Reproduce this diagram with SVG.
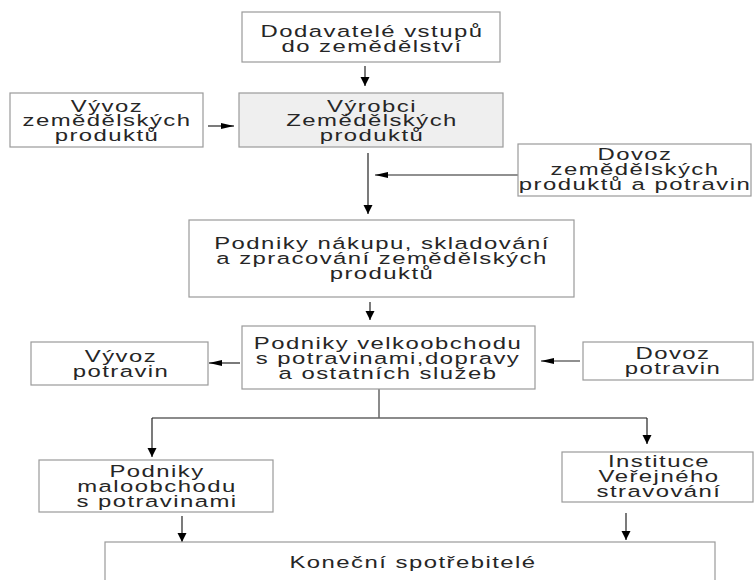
<svg xmlns="http://www.w3.org/2000/svg" width="754" height="580" viewBox="0 0 754 580">
<defs>
<style>
.box{fill:#ffffff;stroke:#9a9a9a;stroke-width:1.2}
.gray{fill:#efefef}
.t{font-family:"Liberation Sans",Arial,sans-serif;font-size:16.5px;letter-spacing:1px;fill:#262626;text-anchor:middle}
.c{fill:none;stroke:#222;stroke-width:1.2}
.cg{fill:none;stroke:#666;stroke-width:1.5}
</style>
<marker id="ah" markerUnits="userSpaceOnUse" markerWidth="14" markerHeight="8" refX="13" refY="4" orient="auto">
<path d="M0,1 L13,4 L0,7 Z" fill="#000"/>
</marker>
<marker id="av" markerUnits="userSpaceOnUse" markerWidth="10" markerHeight="10" refX="9" refY="5" orient="auto">
<path d="M0,0.5 L9,5 L0,9.5 Z" fill="#000"/>
</marker>
</defs>
<rect width="754" height="580" fill="#fff"/>

<g id="connectors">
<path class="c" d="M365,66 V86" marker-end="url(#av)"/>
<path class="c" d="M208,126 H234" marker-end="url(#ah)"/>
<path class="c" d="M518,175 H375" marker-end="url(#ah)"/>
<path class="c" d="M368,153 V214" marker-end="url(#av)"/>
<path class="c" d="M370,302 V320" marker-end="url(#av)"/>
<path class="c" d="M240,363 H209" marker-end="url(#ah)"/>
<path class="c" d="M580,361 H541" marker-end="url(#ah)"/>
<path class="cg" d="M379,389 V418 M152,418 H647"/>
<path class="c" d="M152,418 V457" marker-end="url(#av)"/>
<path class="c" d="M647,418 V444" marker-end="url(#av)"/>
<path class="c" d="M182,516 V542" marker-end="url(#av)"/>
<path class="c" d="M626,513 V540" marker-end="url(#av)"/>
</g>

<g id="dodavatele">
<rect class="box" x="242" y="12" width="258" height="50"/>
<text class="t" transform="translate(372,0) scale(1.45,1)"><tspan x="0" y="37">Dodavatelé vstupů</tspan><tspan x="0" y="52">do zemědělství</tspan></text>
</g>

<g id="vyrobci">
<rect class="box gray" x="239" y="93" width="264" height="54"/>
<text class="t" transform="translate(372,0) scale(1.45,1)"><tspan x="0" y="112">Výrobci</tspan><tspan x="0" y="126.5">Zemědělských</tspan><tspan x="0" y="141">produktů</tspan></text>
</g>

<g id="vyvoz-zem">
<rect class="box" x="10" y="93" width="193" height="54"/>
<text class="t" transform="translate(107,0) scale(1.45,1)"><tspan x="0" y="112">Vývoz</tspan><tspan x="0" y="126.5">zemědělských</tspan><tspan x="0" y="141">produktů</tspan></text>
</g>

<g id="dovoz-zem">
<rect class="box" x="518" y="144" width="233" height="52"/>
<text class="t" transform="translate(635,0) scale(1.45,1)"><tspan x="0" y="160">Dovoz</tspan><tspan x="0" y="175">zemědělských</tspan><tspan x="0" y="190">produktů a potravin</tspan></text>
</g>

<g id="nakup">
<rect class="box" x="189" y="220" width="385" height="77"/>
<text class="t" transform="translate(382,0) scale(1.45,1)"><tspan x="0" y="249">Podniky nákupu, skladování</tspan><tspan x="0" y="264">a zpracování zemědělských</tspan><tspan x="0" y="279">produktů</tspan></text>
</g>

<g id="velkoobchod">
<rect class="box" x="242" y="326" width="293" height="63"/>
<text class="t" transform="translate(388,0) scale(1.45,1)"><tspan x="0" y="349">Podniky velkoobchodu</tspan><tspan x="0" y="364">s potravinami,dopravy</tspan><tspan x="0" y="379">a ostatních služeb</tspan></text>
</g>

<g id="vyvoz-potr">
<rect class="box" x="31" y="342" width="177" height="43"/>
<text class="t" transform="translate(121,0) scale(1.45,1)"><tspan x="0" y="362">Vývoz</tspan><tspan x="0" y="377">potravin</tspan></text>
</g>

<g id="dovoz-potr">
<rect class="box" x="583" y="342" width="170" height="38"/>
<text class="t" transform="translate(673,0) scale(1.45,1)"><tspan x="0" y="359">Dovoz</tspan><tspan x="0" y="374">potravin</tspan></text>
</g>

<g id="maloobchod">
<rect class="box" x="39" y="460" width="234" height="52"/>
<text class="t" transform="translate(157,0) scale(1.45,1)"><tspan x="0" y="477">Podniky</tspan><tspan x="0" y="492">maloobchodu</tspan><tspan x="0" y="507">s potravinami</tspan></text>
</g>

<g id="instituce">
<rect class="box" x="562" y="452" width="191" height="50"/>
<text class="t" transform="translate(659,0) scale(1.45,1)"><tspan x="0" y="467">Instituce</tspan><tspan x="0" y="482">Veřejného</tspan><tspan x="0" y="497">stravování</tspan></text>
</g>

<g id="konecni">
<rect class="box" x="105" y="542" width="610" height="60"/>
<text class="t" transform="translate(413,0) scale(1.45,1)"><tspan x="0" y="568">Koneční spotřebitelé</tspan></text>
</g>
</svg>
